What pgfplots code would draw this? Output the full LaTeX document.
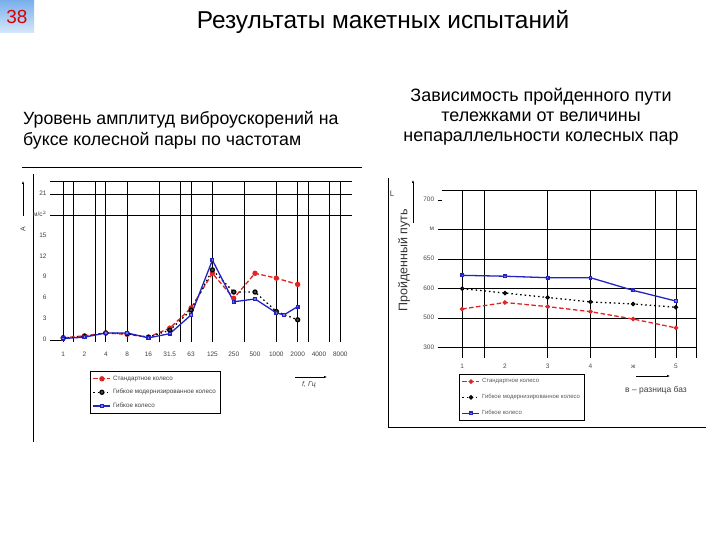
\documentclass[border=0pt]{standalone}
\usepackage{fontspec}
\setmainfont{Liberation Sans}
\usepackage{pgfplots}
\pgfplotsset{compat=1.18}
\usetikzlibrary{arrows.meta}

\definecolor{lred}{RGB}{225,35,35}
\definecolor{lblue}{RGB}{35,35,195}
\definecolor{boxtop}{RGB}{120,175,235}
\definecolor{boxbot}{RGB}{215,232,250}

\pgfplotsset{
  redline/.style={lred, line width=1.3pt, dash pattern=on 4.5pt off 2.5pt,
    mark=*, mark size=2pt, mark options={solid}},
  blackline/.style={black, line width=1.3pt, dash pattern=on 1.5pt off 3pt,
    mark=*, mark size=2pt, mark options={solid, fill=black!70}},
  blueline/.style={lblue, line width=1.3pt, mark=square*, mark size=1.4pt,
    mark options={solid, fill=lblue!60}},
}

\begin{document}
\begin{tikzpicture}[x=1bp,y=-1bp]
\useasboundingbox (0,0) rectangle (720,540);
\fill[white] (0,0) rectangle (720,540);

% slide number
\shade[top color=boxtop, bottom color=boxbot] (0,0) rectangle (34,33);
\node[text=red!85!black, font=\fontsize{19}{19}\selectfont] at (17,17) {38};

\node[font=\fontsize{24.5}{28}\selectfont] at (383,22) {Результаты макетных испытаний};

\node[anchor=north west, align=left, inner sep=0,
  font=\fontsize{17.8}{21}\selectfont] at (23,111)
  {Уровень амплитуд виброускорений на\\буксе колесной пары по частотам};

\node[anchor=north, align=center, inner sep=0,
  font=\fontsize{18}{20.3}\selectfont] at (541,88)
  {Зависимость пройденного пути\\тележками от величины\\непараллельности колесных пар};

% slide rules
\draw[line width=0.8pt] (22,167) -- (362,167);
\draw[line width=0.8pt] (33,174) -- (33,442);
\draw[line width=0.8pt] (388,178) -- (388,428);
\draw[line width=0.8pt] (388,427) -- (706,427);

% ---------------- left chart ----------------
\begin{axis}[
  at={(50bp,-342bp)}, anchor=south west,
  scale only axis, width=302bp, height=161bp,
  xmin=-0.62, xmax=13.55, ymin=-0.3, ymax=22.9,
  clip=false,
  axis line style={draw=none}, tick style={draw=none},
  typeset ticklabels with strut,
  xtick={0,...,13},
  xticklabels={1,2,4,8,16,31.5,63,125,250,500,1000,2000,4000,8000},
  ytick={0,3,...,21},
  yticklabels={0,3,6,9,12,15,м/с$^2$,21},
  extra x ticks={0,0.5,1.5,2,3,4.5,5.5,6,7,8.5,10,11,11.5,12.5,13},
  extra x tick labels={},
  extra y ticks={18,21,22.9},
  extra y tick labels={},
  extra tick style={grid=major, major grid style={black, line width=0.8pt}},
  tick label style={font=\fontsize{6.5}{7}\selectfont, text=black!75},
  xticklabel style={yshift=-6bp},
  legend style={at={(axis description cs:0.132,-0.18)}, anchor=north west,
    draw=black, line width=0.8pt, font=\fontsize{6.3}{7}\selectfont,
    text=black!75, row sep=3.5bp, inner sep=2.5bp, cells={anchor=west}},
]
\addplot[redline] coordinates {
  (0,0.3) (1,0.6) (2,1.0) (3,0.8) (4,0.4) (5,1.7) (6,4.6)
  (7,9.6) (8,6.0) (9,9.6) (10,8.9) (11,8.0)};
\addplot[blackline] coordinates {
  (0,0.3) (1,0.5) (2,1.0) (3,0.9) (4,0.4) (5,1.4) (6,4.3)
  (7,10.1) (8,6.9) (9,6.9) (10,4.1) (11,2.9)};
\addplot[blueline] coordinates {
  (0,0.2) (1,0.4) (2,1.0) (3,1.0) (4,0.3) (5,0.9) (6,3.6)
  (7,11.5) (8,5.5) (9,5.9) (10,3.9) (10.35,3.6) (11,4.8)};
\legend{Стандартное колесо, Гибкое модернизированное колесо, Гибкое колесо}
\draw[line width=0.8pt] (axis cs:-0.62,0) -- (axis cs:0,0);
\end{axis}

\draw[-{Latex[length=3bp]}, line width=0.5pt] (23,216) -- (23,181);
\node[rotate=90, font=\fontsize{7}{8}\selectfont, text=black!75] at (23,229) {A};
\draw[-{Latex[length=3bp]}, line width=0.5pt] (295,377) -- (327,377);
\node[font=\itshape\fontsize{7}{8}\selectfont, text=black!75] at (309,385) {f, Гц};

% ---------------- right chart ----------------
\begin{axis}[
  at={(441.7bp,-358bp)}, anchor=south west,
  scale only axis, width=254.3bp, height=168bp,
  xmin=0.52, xmax=6.47, ymin=-0.35, ymax=5.34,
  clip=false,
  axis line style={draw=none},
  xtick style={draw=none},
  ytick style={black, line width=0.6pt},
  tick align=outside, ytick pos=left, major tick length=4bp,
  typeset ticklabels with strut,
  xtick={1,...,6},
  xticklabels={1,2,3,4,ж,5},
  ytick={0,...,5},
  yticklabels={300,500,600,650,м,700},
  extra x ticks={1,1.53,3,4,5.51,6,6.47},
  extra x tick labels={},
  extra y ticks={0,1,2,3,4,5.34},
  extra y tick labels={},
  extra tick style={grid=major, major grid style={black, line width=0.8pt},
    major tick length=0pt},
  tick label style={font=\fontsize{6.5}{7}\selectfont, text=black!70},
  xticklabel style={yshift=2bp},
  legend style={at={(axis description cs:0.068,-0.095)}, anchor=north west,
    draw=black, line width=0.6pt, font=\fontsize{6}{7}\selectfont,
    text=black!65, row sep=6bp, inner sep=2.5bp, cells={anchor=west}},
]
\addplot[redline, mark size=1.6pt] coordinates {
  (1,1.31) (2,1.53) (3,1.39) (4,1.22) (5,0.97) (6,0.67)};
\addplot[blackline, mark size=1.6pt] coordinates {
  (1,2.0) (2,1.85) (3,1.70) (4,1.55) (5,1.48) (6,1.37)};
\addplot[blueline, mark size=1.3pt] coordinates {
  (1,2.45) (2,2.42) (3,2.37) (4,2.37) (5,1.94) (6,1.58)};
\legend{Стандартное колесо, Гибкое модернизированное колесо, Гибкое колесо}
\end{axis}

\node[font=\fontsize{8}{9}\selectfont, text=black!75] at (392,194) {L};
\draw[-{Latex[length=3bp]}, line width=0.5pt] (413,223) -- (413,180);
\node[rotate=90, font=\fontsize{12.5}{14}\selectfont, text=black!80] at (404,260) {Пройденный путь};
\draw[-{Latex[length=3bp]}, line width=0.5pt] (636,376) -- (670,376);
\node[font=\fontsize{8.5}{10}\selectfont, text=black!75] at (656,390) {в -- разница баз};
\end{tikzpicture}
\end{document}
